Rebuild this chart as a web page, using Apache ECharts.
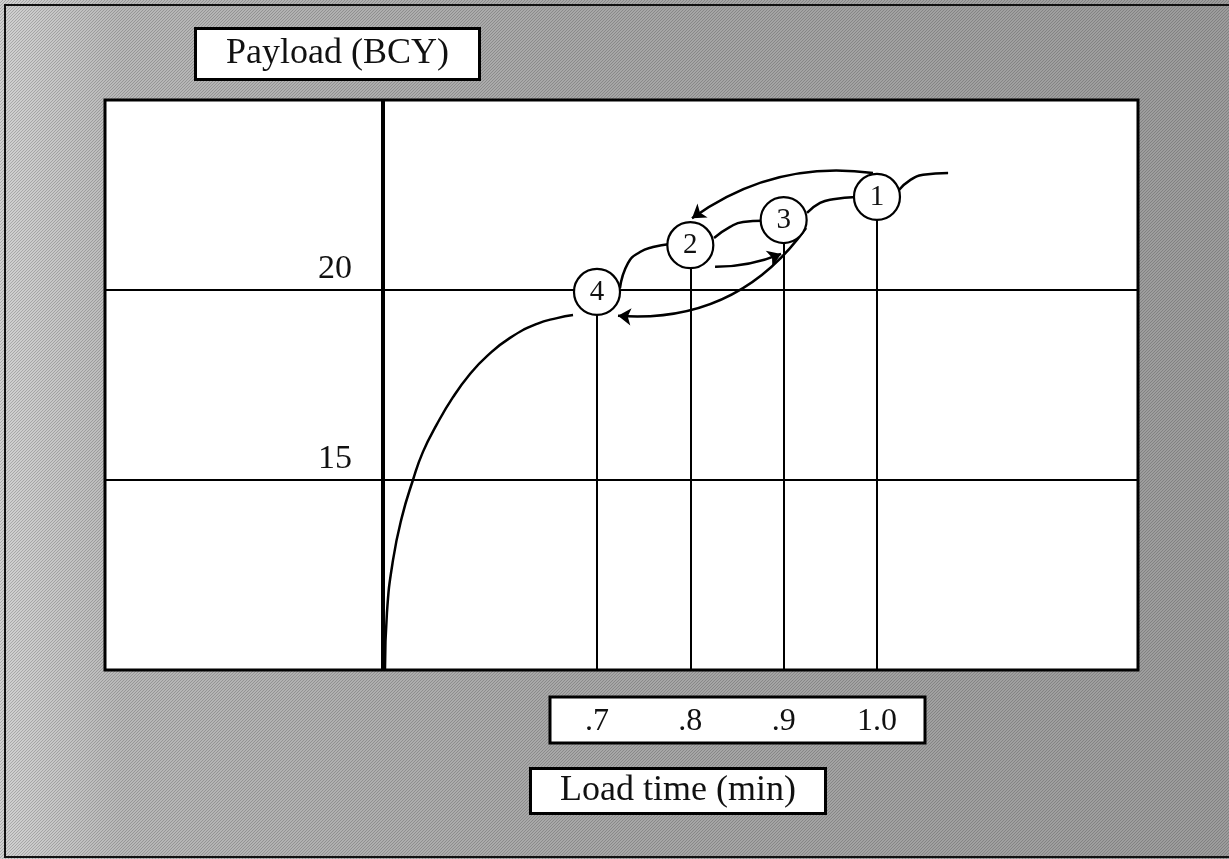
<!DOCTYPE html>
<html>
<head>
<meta charset="utf-8">
<title>Payload vs load time</title>
<script src="https://cdn.jsdelivr.net/npm/echarts@6/dist/echarts.min.js"></script>
<style>
  html, body { margin: 0; padding: 0; width: 1229px; height: 859px; overflow: hidden; }
  #chart { width: 1229px; height: 859px; }
</style>
</head>
<body>
<div id="chart"></div>
<script>
// Load-growth curve: payload (BCY) against load time (min).
// A null payload breaks the curve where it runs behind a numbered point.
const curveX = [0.4728, 0.4749, 0.4814, 0.4910, 0.5028, 0.5135, 0.5285, 0.5457, 0.5639,
                0.5821, 0.6068, 0.6357, 0.6571, 0.6743,
                0.70,
                0.7246, 0.7332, 0.7461, 0.7600, 0.7782,
                0.80,
                0.8254, 0.8426, 0.8565, 0.8779,
                0.90,
                0.9250, 0.9390, 0.9530, 0.9776,
                1.00,
                1.0236, 1.0355, 1.0494, 1.0762];
const curveY = [10.0, 11.5, 12.89, 14.03, 15.0, 15.74, 16.47, 17.18, 17.79,
                18.26, 18.74, 19.11, 19.26, 19.34,
                null,
                20.05, 20.71, 21.0, 21.13, 21.21,
                null,
                21.37, 21.66, 21.79, 21.82,
                null,
                22.03, 22.29, 22.39, 22.45,
                null,
                22.63, 22.89, 23.03, 23.08];

// Numbered operating points on the curve
const pointNames = ['1', '2', '3', '4'];
const pointX = [1.0, 0.8, 0.9, 0.7];
const pointY = [22.45, 21.18, 21.84, 19.95];

// Curved arrows between operating points: start and end (time, payload)
const arrowFrom = [[0.9957, 23.08], [0.8265, 20.61], [0.9240, 21.63]];
const arrowTo   = [[0.8018, 21.89], [0.8972, 20.95], [0.7225, 19.32]];
const arrowBend = [-0.2, -0.1, 0.28];

// Axis ticks and labels
const xTickValues = [0.7, 0.8, 0.9, 1.0];
const xTickLabels = ['.7', '.8', '.9', '1.0'];
const yTickValues = [15, 20];
const yTickLabels = ['15', '20'];

// Where the payload axis stands on the time scale
const payloadAxisAt = 0.4707;

const xMin = 0.1728, xMax = 1.2797;
const yMin = 10, yMax = 25;

const SERIF = "'Liberation Serif', 'DejaVu Serif', serif";
const W = 1229, H = 859;

// Grey halftone-like page backdrop: a soft gradient with a fine diagonal hatch
function makeBackdrop() {
  const c = document.createElement('canvas');
  c.width = W; c.height = H;
  const g = c.getContext('2d');
  const grad = g.createLinearGradient(0, 0, W, 0);
  grad.addColorStop(0, '#d2d2d2');
  grad.addColorStop(0.1, '#b8b8b8');
  grad.addColorStop(0.45, '#a8a8a8');
  grad.addColorStop(1, '#9c9c9c');
  g.fillStyle = grad;
  g.fillRect(0, 0, W, H);
  g.strokeStyle = 'rgba(30,30,30,0.22)';
  g.lineWidth = 1;
  for (let k = -H; k < W; k += 3) {
    g.beginPath();
    g.moveTo(k, H);
    g.lineTo(k + H, 0);
    g.stroke();
  }
  return c;
}

const chart = echarts.init(document.getElementById('chart'), null, { renderer: 'canvas' });

const curveData = curveX.map((x, i) => [x, curveY[i] === null ? '-' : curveY[i]]);
const pointData = pointX.map((x, i) => ({ name: pointNames[i], value: [x, pointY[i]] }));
const dropData = pointX.map((x, i) => ({ coords: [[x, pointY[i]], [x, yMin]] }));
const arrowData = arrowFrom.map((p, i) => ({
  coords: [p, arrowTo[i]],
  lineStyle: { curveness: arrowBend[i] }
}));

const option = {
  animation: false,
  backgroundColor: { image: makeBackdrop(), repeat: 'no-repeat' },
  title: [
    {
      text: 'Payload (BCY)',
      left: 195, top: 28,
      padding: [7, 31, 7, 31],
      backgroundColor: '#ffffff',
      borderColor: '#000000',
      borderWidth: 3,
      textStyle: { fontFamily: SERIF, fontSize: 36, fontWeight: 'normal', color: '#111', lineHeight: 38 }
    },
    {
      text: 'Load time (min)',
      left: 530, top: 768,
      padding: [4, 30, 4, 30],
      backgroundColor: '#ffffff',
      borderColor: '#000000',
      borderWidth: 3,
      textStyle: { fontFamily: SERIF, fontSize: 36, fontWeight: 'normal', color: '#111', lineHeight: 38 }
    }
  ],
  graphic: [
    {
      type: 'rect', z: 1, silent: true,
      shape: { x: 5, y: 5, width: 1240, height: 852 },
      style: { fill: null, stroke: '#111', lineWidth: 2 }
    },
    {
      type: 'rect', z: 1, silent: true,
      shape: { x: 550, y: 697, width: 375, height: 46 },
      style: { fill: '#ffffff', stroke: '#000000', lineWidth: 3 }
    }
  ],
  grid: {
    left: 105, top: 100, width: 1033, height: 570,
    show: true,
    backgroundColor: '#ffffff',
    borderColor: '#000000',
    borderWidth: 3,
    containLabel: false
  },
  xAxis: {
    type: 'value',
    min: xMin, max: xMax,
    z: 10,
    axisLine: { show: false },
    axisTick: { show: false },
    splitLine: { show: false },
    axisLabel: {
      customValues: xTickValues,
      margin: 36,
      fontFamily: SERIF,
      fontSize: 32,
      color: '#111',
      formatter: v => {
        const i = xTickValues.findIndex(t => Math.abs(t - v) < 1e-6);
        return i >= 0 ? xTickLabels[i] : '';
      }
    }
  },
  yAxis: {
    type: 'value',
    min: yMin, max: yMax, interval: 5,
    axisLine: { show: false },
    axisTick: { show: false },
    splitLine: { show: true, lineStyle: { color: '#000', width: 2 } },
    axisLabel: {
      customValues: yTickValues,
      margin: -247,
      align: 'right',
      verticalAlign: 'bottom',
      padding: [0, 0, 4, 0],
      fontFamily: SERIF,
      fontSize: 34,
      lineHeight: 34,
      color: '#111',
      formatter: v => {
        const i = yTickValues.indexOf(v);
        return i >= 0 ? yTickLabels[i] : '';
      }
    }
  },
  series: [
    {
      name: 'Payload curve',
      type: 'line',
      data: curveData,
      showSymbol: false,
      connectNulls: false,
      smooth: 0.5,
      lineStyle: { color: '#000', width: 2.5 },
      z: 3,
      markLine: {
        silent: true,
        symbol: ['none', 'none'],
        label: { show: false },
        lineStyle: { color: '#000', width: 4, type: 'solid' },
        data: [{ xAxis: payloadAxisAt }]
      }
    },
    {
      name: 'Drop lines',
      type: 'lines',
      coordinateSystem: 'cartesian2d',
      data: dropData,
      lineStyle: { color: '#000', width: 2, opacity: 1 },
      z: 2
    },
    {
      name: 'Moves',
      type: 'lines',
      coordinateSystem: 'cartesian2d',
      data: arrowData,
      symbol: ['none', 'arrow'],
      symbolSize: 13,
      lineStyle: { color: '#000', width: 2.5, opacity: 1 },
      z: 4
    },
    {
      name: 'Operating points',
      type: 'scatter',
      data: pointData,
      symbol: 'circle',
      symbolSize: 46,
      itemStyle: { color: '#ffffff', borderColor: '#000', borderWidth: 2.2, opacity: 1 },
      label: {
        show: true,
        position: 'inside',
        formatter: p => p.name,
        fontFamily: SERIF,
        fontSize: 29,
        color: '#111'
      },
      z: 6
    }
  ]
};

chart.setOption(option);
</script>
</body>
</html>
